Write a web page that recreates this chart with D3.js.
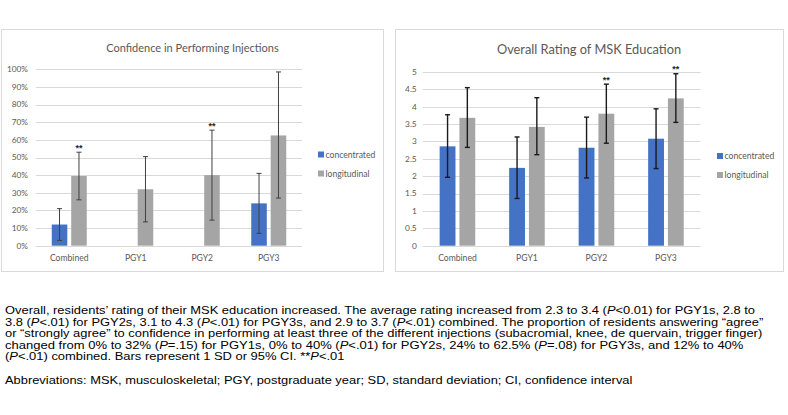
<!DOCTYPE html>
<html>
<head>
<meta charset="utf-8">
<script src="https://cdn.jsdelivr.net/npm/d3@7"></script>
<style>
  html, body { margin: 0; padding: 0; background: #fff; }
  svg { display: block; }
</style>
</head>
<body>
<div id="chart"></div>
<script>
// Categories and series
const categories = ["Combined", "PGY1", "PGY2", "PGY3"];
const seriesNames = ["concentrated", "longitudinal"];

// Confidence in performing injections (%)
const confConcentrated = [12, 0, 0, 24];
const confConcLow = [3, null, null, 7];
const confConcHigh = [21, null, null, 41];
const confLongitudinal = [39.5, 32, 40, 62.5];
const confLongLow = [26, 13.5, 14.5, 27];
const confLongHigh = [53, 50.5, 65.5, 98.5];
const confLongSig = [true, false, true, false];
const confTicks = [0, 10, 20, 30, 40, 50, 60, 70, 80, 90, 100];

// Overall rating of MSK education (1-5)
const rateConcentrated = [2.86, 2.24, 2.82, 3.08];
const rateConcLow = [1.97, 1.36, 1.95, 2.22];
const rateConcHigh = [3.77, 3.13, 3.70, 3.94];
const rateLongitudinal = [3.68, 3.42, 3.80, 4.24];
const rateLongLow = [2.83, 2.62, 2.95, 3.55];
const rateLongHigh = [4.55, 4.26, 4.65, 4.95];
const rateLongSig = [false, false, true, true];
const rateTicks = [0, 0.5, 1, 1.5, 2, 2.5, 3, 3.5, 4, 4.5, 5];

// Caption lines (_P_ marks italic P)
const captionLines = [
    "Overall, residents’ rating of their MSK education increased. The average rating increased from 2.3 to 3.4 (_P_<0.01) for PGY1s, 2.8 to",
    "3.8 (_P_<.01) for PGY2s, 3.1 to 4.3 (_P_<.01) for PGY3s, and 2.9 to 3.7 (_P_<.01) combined. The proportion of residents answering “agree”",
    "or “strongly agree” to confidence in performing at least three of the different injections (subacromial, knee, de quervain, trigger finger)",
    "changed from 0% to 32% (_P_=.15) for PGY1s, 0% to 40% (_P_<.01) for PGY2s, 24% to 62.5% (_P_=.08) for PGY3s, and 12% to 40%",
    "(_P_<.01) combined. Bars represent 1 SD or 95% CI. **_P_<.01",
    "",
    "Abbreviations: MSK, musculoskeletal; PGY, postgraduate year; SD, standard deviation; CI, confidence interval"
];
const captionEnds = [756, 764, 763, 744, 345, null, 633];

const colors = { concentrated: "#4472C4", longitudinal: "#A5A5A5" };
const chartFont = "Lato, 'Open Sans', sans-serif";
const textGray = "#595959";

const svg = d3.select("#chart").append("svg")
    .attr("width", 788)
    .attr("height", 415);

function drawPanel(opts) {
    // panel border
    svg.append("rect")
        .attr("x", opts.box[0] + 0.5)
        .attr("y", opts.box[1] + 0.5)
        .attr("width", opts.box[2])
        .attr("height", opts.box[3])
        .attr("fill", "#fff")
        .attr("stroke", "#d9d9d9")
        .attr("stroke-width", 1);

    const x0 = d3.scaleBand()
        .domain(categories)
        .range([opts.left, opts.right]);

    const x1 = d3.scaleBand()
        .domain(seriesNames)
        .range([-opts.half, opts.half])
        .paddingInner(0.2);

    const y = d3.scaleLinear()
        .domain([0, opts.max])
        .range([opts.bottom, opts.top]);

    // grid
    svg.append("g")
        .selectAll("line")
        .data(opts.ticks)
        .enter().append("line")
        .attr("x1", opts.left)
        .attr("x2", opts.right)
        .attr("y1", d => Math.round(y(d)) + 0.5)
        .attr("y2", d => Math.round(y(d)) + 0.5)
        .attr("stroke", "#d9d9d9")
        .attr("stroke-width", 1);

    // y labels
    svg.append("g")
        .selectAll("text")
        .data(opts.ticks)
        .enter().append("text")
        .attr("x", opts.left - opts.labelGap)
        .attr("y", d => y(d))
        .attr("dy", "0.35em")
        .attr("text-anchor", "end")
        .style("font-family", chartFont)
        .style("font-size", "8.3px")
        .style("fill", textGray)
        .text(opts.tickFormat);

    // x labels
    svg.append("g")
        .selectAll("text")
        .data(categories)
        .enter().append("text")
        .attr("x", d => x0(d) + x0.bandwidth() / 2)
        .attr("y", opts.bottom + 15.5)
        .attr("text-anchor", "middle")
        .style("font-family", chartFont)
        .style("font-size", "8.6px")
        .style("fill", textGray)
        .text(d => d);

    // bars
    const rows = [];
    categories.forEach((c, i) => {
        opts.series.forEach(s => {
            rows.push({ cat: c, name: s.name, v: s.values[i], lo: s.low[i], hi: s.high[i], sig: s.sig ? s.sig[i] : false });
        });
    });

    const bx = d => x0(d.cat) + x0.bandwidth() / 2 + x1(d.name);

    svg.append("g")
        .selectAll("rect")
        .data(rows.filter(d => d.v > 0))
        .enter().append("rect")
        .attr("x", bx)
        .attr("y", d => y(d.v))
        .attr("width", x1.bandwidth())
        .attr("height", d => y(0) - y(d.v))
        .attr("fill", d => colors[d.name]);

    // error bars
    const errs = rows.filter(d => d.lo != null);
    const eg = svg.append("g")
        .attr("stroke", opts.errColor)
        .attr("stroke-width", opts.errWidth);
    const cx = d => bx(d) + x1.bandwidth() / 2;
    eg.selectAll(".stem").data(errs).enter().append("line")
        .attr("x1", cx).attr("x2", cx)
        .attr("y1", d => y(d.lo)).attr("y2", d => y(d.hi));
    eg.selectAll(".capTop").data(errs).enter().append("line")
        .attr("x1", d => cx(d) - 2.5).attr("x2", d => cx(d) + 2.5)
        .attr("y1", d => y(d.hi)).attr("y2", d => y(d.hi));
    eg.selectAll(".capBot").data(errs).enter().append("line")
        .attr("x1", d => cx(d) - 2.5).attr("x2", d => cx(d) + 2.5)
        .attr("y1", d => y(d.lo)).attr("y2", d => y(d.lo));

    // significance markers
    svg.append("g")
        .selectAll("text")
        .data(rows.filter(d => d.sig))
        .enter().append("text")
        .attr("x", cx)
        .attr("y", d => y(d.hi) - 1.5)
        .attr("text-anchor", "middle")
        .style("font-family", "'Liberation Sans', Arial, sans-serif")
        .style("font-size", "9px")
        .style("font-weight", "bold")
        .style("fill", "#262626")
        .text("**");

    // title
    svg.append("text")
        .attr("x", opts.titleX)
        .attr("y", opts.titleY)
        .attr("text-anchor", "middle")
        .style("font-family", chartFont)
        .style("font-size", opts.titleSize + "px")
        .style("fill", textGray)
        .text(opts.title);

    // legend
    const lg = svg.append("g")
        .attr("transform", `translate(${opts.legendX},${opts.legendY})`);
    seriesNames.forEach((s, i) => {
        lg.append("rect")
            .attr("x", 0)
            .attr("y", i * opts.legendStep - 3)
            .attr("width", 6)
            .attr("height", 6)
            .attr("fill", colors[s]);
        lg.append("text")
            .attr("x", 7.5)
            .attr("y", i * opts.legendStep)
            .attr("dy", "0.35em")
            .style("font-family", chartFont)
            .style("font-size", "8.6px")
            .style("fill", textGray)
            .text(s);
    });
}

drawPanel({
    box: [1, 29, 382, 242],
    left: 36, right: 302, top: 69.3, bottom: 245.7, max: 100,
    half: 17.5, labelGap: 8,
    ticks: confTicks,
    tickFormat: d => d + "%",
    series: [
        { name: "concentrated", values: confConcentrated, low: confConcLow, high: confConcHigh },
        { name: "longitudinal", values: confLongitudinal, low: confLongLow, high: confLongHigh, sig: confLongSig }
    ],
    errColor: "#404040", errWidth: 1,
    title: "Confidence in Performing Injections",
    titleX: 192.5, titleY: 52, titleSize: 11,
    legendX: 318, legendY: 154.5, legendStep: 19
});

drawPanel({
    box: [395, 29, 388, 242],
    left: 422.7, right: 700.7, top: 72, bottom: 245.7, max: 5,
    half: 17.8, labelGap: 6,
    ticks: rateTicks,
    tickFormat: d => String(d),
    series: [
        { name: "concentrated", values: rateConcentrated, low: rateConcLow, high: rateConcHigh },
        { name: "longitudinal", values: rateLongitudinal, low: rateLongLow, high: rateLongHigh, sig: rateLongSig }
    ],
    errColor: "#1a1a1a", errWidth: 1.4,
    title: "Overall Rating of MSK Education",
    titleX: 589, titleY: 53.5, titleSize: 12.8,
    legendX: 717, legendY: 156, legendStep: 19
});

// caption
const captionBase = [314, 325.5, 337, 348.5, 360, null, 384];
captionLines.forEach((line, i) => {
    if (!line) return;
    const t = svg.append("text")
        .attr("x", 0)
        .attr("y", 0)
        .style("font-family", "'Liberation Sans', Arial, sans-serif")
        .style("font-size", "11px")
        .style("fill", "#000");
    line.split("_").forEach((seg, k) => {
        if (!seg) return;
        t.append("tspan")
            .style("font-style", k % 2 === 1 ? "italic" : "normal")
            .text(seg);
    });
    const w = t.node().getComputedTextLength();
    const sx = (captionEnds[i] - 5) / w;
    t.attr("transform", `translate(5,${captionBase[i]}) scale(${sx},1)`);
});
</script>
</body>
</html>
